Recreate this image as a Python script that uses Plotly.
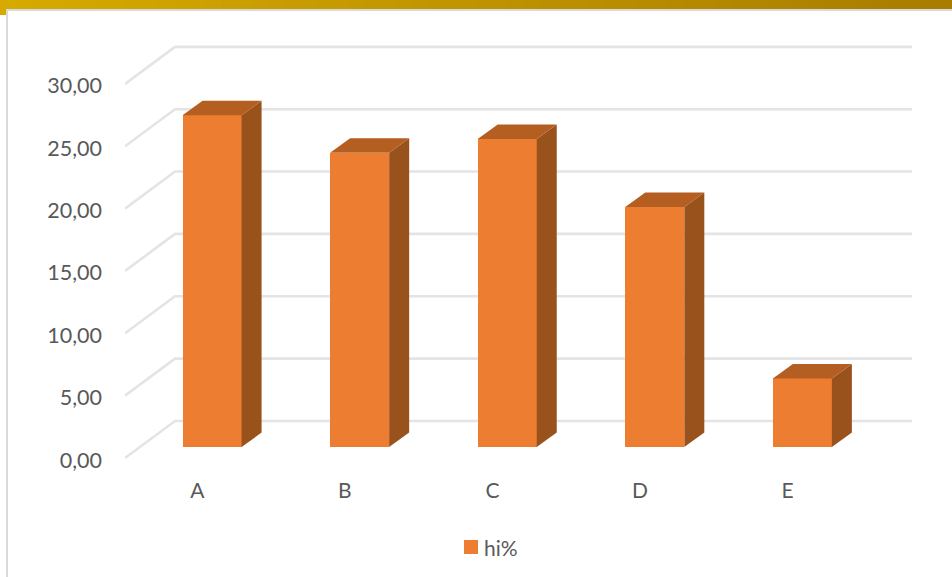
import plotly.graph_objects as go

categories = ["A", "B", "C", "D", "E"]
values = [26.6, 23.6, 24.7, 19.25, 5.5]
y_ticks = [0, 5, 10, 15, 20, 25, 30]
y_labels = ["0,00", "5,00", "10,00", "15,00", "20,00", "25,00", "30,00"]
series_name = "hi%"

W, H = 952, 577
ML, MR, MT, MB = 125, 40, 40, 107
XR = [-0.49, 4.843]
YR = [-0.96, 33.52]
BASE = 0.88
BAR_W = 0.40
BAR_OFF = 0.10
DX, DY = 0.1356, 1.16
WALL_DX, WALL_DY = 0.339, 2.97
FRONT, SIDE, TOP = "#ED7D31", "#9A521D", "#B55E22"
FONT = "Lato, Carlito, sans-serif"
TXT = "#595959"


def px(x):
    return (x - ML) / (W - ML - MR)


def py(y):
    return (H - MB - y) / (H - MT - MB)


xs = list(range(len(categories)))
fig = go.Figure()
fig.add_trace(go.Bar(
    x=[i + BAR_OFF for i in xs], y=values, base=BASE, width=BAR_W, name=series_name,
    marker=dict(color=FRONT, line=dict(width=0)), showlegend=False,
))
for i, v in zip(xs, values):
    l, r = i + BAR_OFF - BAR_W / 2, i + BAR_OFF + BAR_W / 2
    b, t = BASE, BASE + v
    fig.add_trace(go.Scatter(
        x=[r, r + DX, r + DX, r, r], y=[b, b + DY, t + DY, t, b], mode="lines",
        fill="toself", fillcolor=SIDE, line=dict(width=0), showlegend=False, hoverinfo="skip"))
    fig.add_trace(go.Scatter(
        x=[l, l + DX, r + DX, r, l], y=[t, t + DY, t + DY, t, t], mode="lines",
        fill="toself", fillcolor=TOP, line=dict(width=0), showlegend=False, hoverinfo="skip"))

shapes = []
for v in y_ticks:
    shapes.append(dict(
        type="path", layer="below", xref="x", yref="y",
        path=f"M {XR[0]} {v} L {XR[0] + WALL_DX} {v + WALL_DY} L {XR[1]} {v + WALL_DY}",
        line=dict(color="#E4E4E4", width=2.6)))

# slide frame: gold band with gradient and card border
n = 60
c0, c1 = (214, 170, 0), (168, 125, 0)
for k in range(n):
    f = k / (n - 1)
    col = "rgb(%d,%d,%d)" % tuple(round(a + (b - a) * f) for a, b in zip(c0, c1))
    shapes.append(dict(type="rect", xref="paper", yref="paper", layer="above",
                       x0=px(W * k / n), x1=px(W * (k + 1) / n + 1), y0=py(0), y1=py(9),
                       fillcolor=col, line=dict(width=0)))
shapes.append(dict(type="rect", xref="paper", yref="paper", layer="above",
                   x0=px(0), x1=px(6), y0=py(9), y1=py(15), fillcolor="rgb(214,170,0)", line=dict(width=0)))
shapes.append(dict(type="rect", xref="paper", yref="paper", layer="above",
                   x0=px(6), x1=px(W), y0=py(9), y1=py(11), fillcolor="#DADADA", line=dict(width=0)))
shapes.append(dict(type="rect", xref="paper", yref="paper", layer="above",
                   x0=px(6), x1=px(8), y0=py(9), y1=py(H), fillcolor="#DADADA", line=dict(width=0)))
# legend key
shapes.append(dict(type="rect", xref="paper", yref="paper", layer="above",
                   x0=px(464), x1=px(478), y0=py(540), y1=py(554), fillcolor=FRONT, line=dict(width=0)))

fig.update_layout(
    width=W, height=H, margin=dict(l=ML, r=MR, t=MT, b=MB, pad=0),
    paper_bgcolor="white", plot_bgcolor="white", font=dict(family=FONT, color=TXT, size=21),
    shapes=shapes, bargap=0, showlegend=False,
    xaxis=dict(range=XR, tickmode="array", tickvals=xs, ticktext=categories, showgrid=False,
               zeroline=False, showline=False, ticks="", ticklabelstandoff=6,
               tickfont=dict(size=21, color=TXT)),
    yaxis=dict(range=YR, tickmode="array", tickvals=y_ticks, ticktext=y_labels, showgrid=False,
               zeroline=False, showline=False, ticks="", ticklabelstandoff=22, ticklabelshift=2,
               tickfont=dict(size=21.5, color=TXT)),
    annotations=[dict(text=series_name, xref="paper", yref="paper", x=px(482), y=py(547),
                      xanchor="left", yanchor="middle", showarrow=False, font=dict(size=21, color=TXT))],
)
fig.write_html("out.html", post_script="document.body.style.margin='0';", config={"displayModeBar": False})
